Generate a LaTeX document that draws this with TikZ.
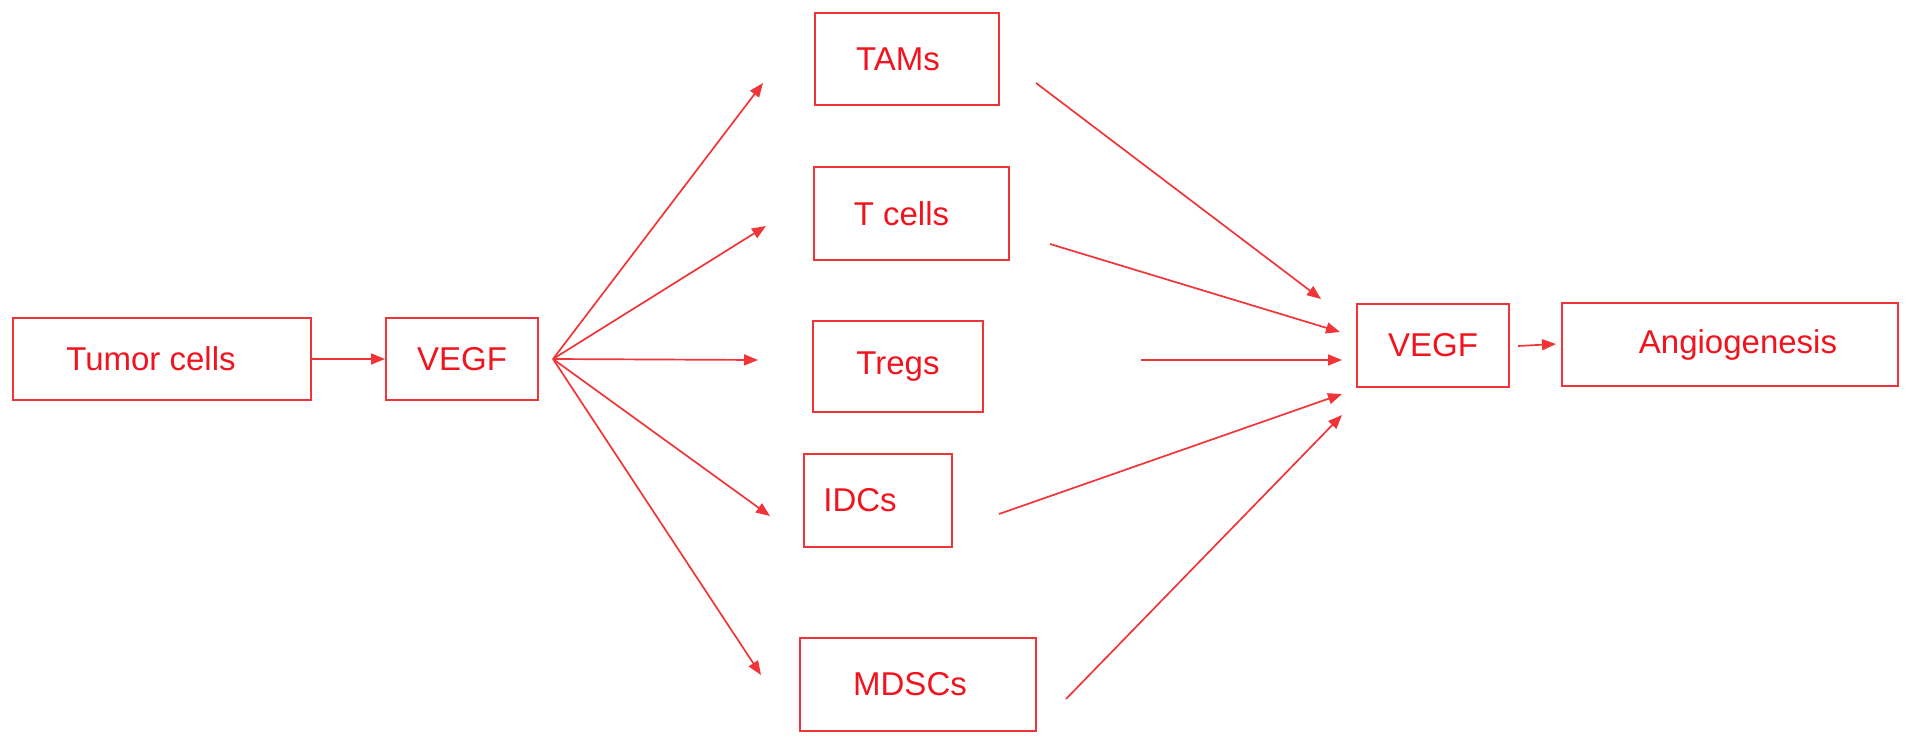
\documentclass[tikz,border=0pt]{standalone}
\usepackage{fontspec}
\setmainfont{Liberation Sans}
\usetikzlibrary{arrows.meta}
\definecolor{boxred}{RGB}{240,52,56}
\definecolor{txtred}{RGB}{240,20,30}
\begin{document}
\begin{tikzpicture}[x=1pt,y=-1pt,
  cellbox/.style={draw=boxred,line width=1.9pt,inner sep=0pt,text=txtred,
    font=\fontsize{33}{38}\selectfont},
  arr/.style={draw=boxred,line width=1.7pt,-{Triangle[length=14pt,width=11pt]}}]
\useasboundingbox (0,0) rectangle (1913,744);
% boxes
\node[cellbox,minimum width=298pt,minimum height=82pt] (tumor) at (162,359) {\hspace*{-22pt}Tumor cells};
\node[cellbox,minimum width=152pt,minimum height=82pt] (vegfa) at (462,359) {VEGF};
\node[cellbox,minimum width=184pt,minimum height=92pt] (tams) at (907,59) {\hspace*{-18pt}TAMs};
\node[cellbox,minimum width=195pt,minimum height=93pt] (tcells) at (911.5,213.5) {\hspace*{-20pt}T cells};
\node[cellbox,minimum width=170pt,minimum height=91pt] (tregs) at (898,366.5) {Tregs};
\node[cellbox,minimum width=148pt,minimum height=93pt] (idcs) at (878,500.5) {\hspace*{-36pt}IDCs};
\node[cellbox,minimum width=236pt,minimum height=93pt] (mdscs) at (918,684.5) {\hspace*{-16pt}MDSCs};
\node[cellbox,minimum width=152pt,minimum height=83pt] (vegfb) at (1433,345.5) {VEGF};
\node[cellbox,minimum width=336pt,minimum height=83pt] (angio) at (1730,344.5) {\hspace*{16pt}Angiogenesis};
% free arrow ends
\coordinate (fan) at (553,359);
\coordinate (t1) at (763,83);
\coordinate (t2) at (766,226);
\coordinate (t3) at (758,360);
\coordinate (t4) at (770,516);
\coordinate (t5) at (761,675);
\coordinate (s1) at (1036,83);
\coordinate (s2) at (1050,244);
\coordinate (s3) at (1141,360);
\coordinate (s4) at (999,514);
\coordinate (s5) at (1066,699);
\coordinate (e1) at (1321,299);
\coordinate (e2) at (1340,332);
\coordinate (e3) at (1342,360);
\coordinate (e4) at (1342,394);
\coordinate (e5) at (1342,415);
\coordinate (va) at (1518,346);
\coordinate (vb) at (1556,344);
% connectors
\draw[arr] (tumor) -- (vegfa);
\foreach \t in {t1,t2,t3,t4,t5} \draw[arr] (fan) -- (\t);
\draw[arr] (s1) -- (e1);
\draw[arr] (s2) -- (e2);
\draw[arr] (s3) -- (e3);
\draw[arr] (s4) -- (e4);
\draw[arr] (s5) -- (e5);
\draw[arr] (va) -- (vb);
\end{tikzpicture}
\end{document}
